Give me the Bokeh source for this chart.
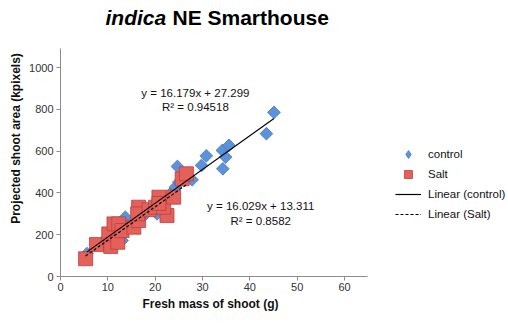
import math
from bokeh.plotting import figure
from bokeh.models import Range1d, Label, Legend, LegendItem, FixedTicker, Title
from bokeh.embed import file_html
from bokeh.resources import INLINE

# Data
control_x = [5.6, 8.8, 9.2, 13.0, 13.7, 16.0, 18.0, 20.4, 21.0, 23.9, 24.3, 24.7, 25.0, 27.8,
             29.8, 30.8, 34.2, 34.3, 34.9, 35.6, 43.5, 45.1]
control_y = [110, 164, 164, 172, 284, 260, 300, 300, 340, 412, 428, 527, 452, 463,
             532, 578, 604, 516, 572, 628, 684, 786]
salt_x = [5.3, 7.6, 10.6, 10.2, 11.3, 12.3, 12.1, 13.0, 15.5, 16.5, 16.5, 16.3, 18.7,
          20.1, 20.8, 22.5, 21.8, 23.9, 20.8, 25.7, 26.6]
salt_y = [85, 153, 144, 204, 252, 252, 164, 220, 236, 268, 332, 300, 320,
          332, 380, 292, 332, 380, 350, 468, 492]

fit_control = (16.179, 27.299)
fit_salt = (16.029, 13.311)
eq_control = ["y = 16.179x + 27.299", "R² = 0.94518"]
eq_salt = ["y = 16.029x + 13.311", "R² = 0.8582"]

x_ticks = [0, 10, 20, 30, 40, 50, 60]
y_ticks = [0, 200, 400, 600, 800, 1000]
x_axis_max = 64.9
y_axis_max = 1092

FONT = "Liberation Sans"
BLUE, BLUE_LINE = "#5b92da", "#4679c0"
RED, RED_LINE = "#e4605b", "#b9413d"
NAN = float("nan")

# frame covers the whole area right of/above the axes; axis lines are bounded
p = figure(width=508, height=324, output_backend="svg", toolbar_location=None,
           x_range=Range1d(0, 94.65), y_range=Range1d(0, 1322),
           min_border_left=60, min_border_right=0, min_border_top=0, min_border_bottom=48)
p.outline_line_color = None
p.xgrid.visible = False
p.ygrid.visible = False
p.background_fill_color = "white"

for ax in (p.xaxis[0], p.yaxis[0]):
    ax.axis_line_color = "#8c8c8c"
    ax.major_tick_line_color = "#8c8c8c"
    ax.minor_tick_line_color = None
    ax.major_tick_out = 4
    ax.major_tick_in = 0
    ax.major_label_text_font = FONT
    ax.major_label_text_font_size = "11px"
    ax.major_label_text_color = "#333333"
    ax.axis_label_text_font = FONT
    ax.axis_label_text_font_size = "12px"
    ax.axis_label_text_font_style = "bold"
    ax.axis_label_text_color = "#111111"

p.xaxis.bounds = (0, x_axis_max)
p.yaxis.bounds = (0, y_axis_max)
p.xaxis.ticker = FixedTicker(ticks=x_ticks)
p.yaxis.ticker = FixedTicker(ticks=y_ticks)
p.yaxis.axis_label = "Projected shoot area (kpixels)"
p.xaxis.major_label_standoff = 2
p.yaxis.major_label_standoff = 3
p.yaxis.axis_label_standoff = 3

# x axis title, placed under the bounded axis
p.add_layout(Title(text="Fresh mass of shoot (g)", align="left", offset=82, standoff=2,
                   text_font=FONT, text_font_size="12px", text_font_style="bold",
                   text_color="#111111"), "below")

r_c = p.scatter(control_x, control_y, marker="square", size=9, angle=math.pi / 4,
                fill_color=BLUE, line_color=BLUE_LINE, line_width=0.8)
r_s = p.scatter(salt_x, salt_y, marker="square", size=14,
                fill_color=RED, line_color=RED_LINE, line_width=0.8)

cx = [min(control_x), max(control_x)]
cy = [fit_control[0] * v + fit_control[1] for v in cx]
sx = [min(salt_x), max(salt_x)]
sy = [fit_salt[0] * v + fit_salt[1] for v in sx]
r_lc = p.line(cx, cy, line_color="black", line_width=1.2)
r_ls = p.line(sx, sy, line_color="black", line_width=1.2, line_dash="3 2")

# legend-only glyphs (not drawn in the plot)
leg_c = p.scatter([NAN], [NAN], marker="diamond", size=11, fill_color=BLUE, line_color=BLUE_LINE,
                  line_width=0.8)
leg_s = p.scatter([NAN], [NAN], marker="square", size=9, fill_color=RED, line_color=RED_LINE,
                  line_width=0.8)

# equation labels
for txt, yv in zip(eq_control, [878, 811]):
    p.add_layout(Label(x=28.5, y=yv, text=txt, text_align="center", text_baseline="middle",
                       text_font=FONT, text_font_size="11.5px", text_color="#111111"))
for txt, yv in zip(eq_salt, [337, 268]):
    p.add_layout(Label(x=42.3, y=yv, text=txt, text_align="center", text_baseline="middle",
                       text_font=FONT, text_font_size="11.5px", text_color="#111111"))

# title
p.add_layout(Label(x=9.5, y=1241, text="indica", text_align="left", text_baseline="middle",
                   text_font=FONT, text_font_size="21px", text_font_style="bold italic",
                   text_color="black"))
p.add_layout(Label(x=23.66, y=1241, text="NE Smarthouse", text_align="left", text_baseline="middle",
                   text_font=FONT, text_font_size="21px", text_font_style="bold",
                   text_color="black"))

legend = Legend(items=[
    LegendItem(label="control", renderers=[leg_c], index=0),
    LegendItem(label="Salt", renderers=[leg_s], index=0),
    LegendItem(label="Linear (control)", renderers=[r_lc]),
    LegendItem(label="Linear (Salt)", renderers=[r_ls]),
], location=(335, 52), glyph_width=26, glyph_height=20, spacing=0, padding=0, margin=0,
    label_standoff=7, label_text_font=FONT, label_text_font_size="11.5px",
    label_text_color="#111111", border_line_color=None, background_fill_alpha=0)
p.add_layout(legend, "center")

open("out.html", "w").write(file_html(p, INLINE))
